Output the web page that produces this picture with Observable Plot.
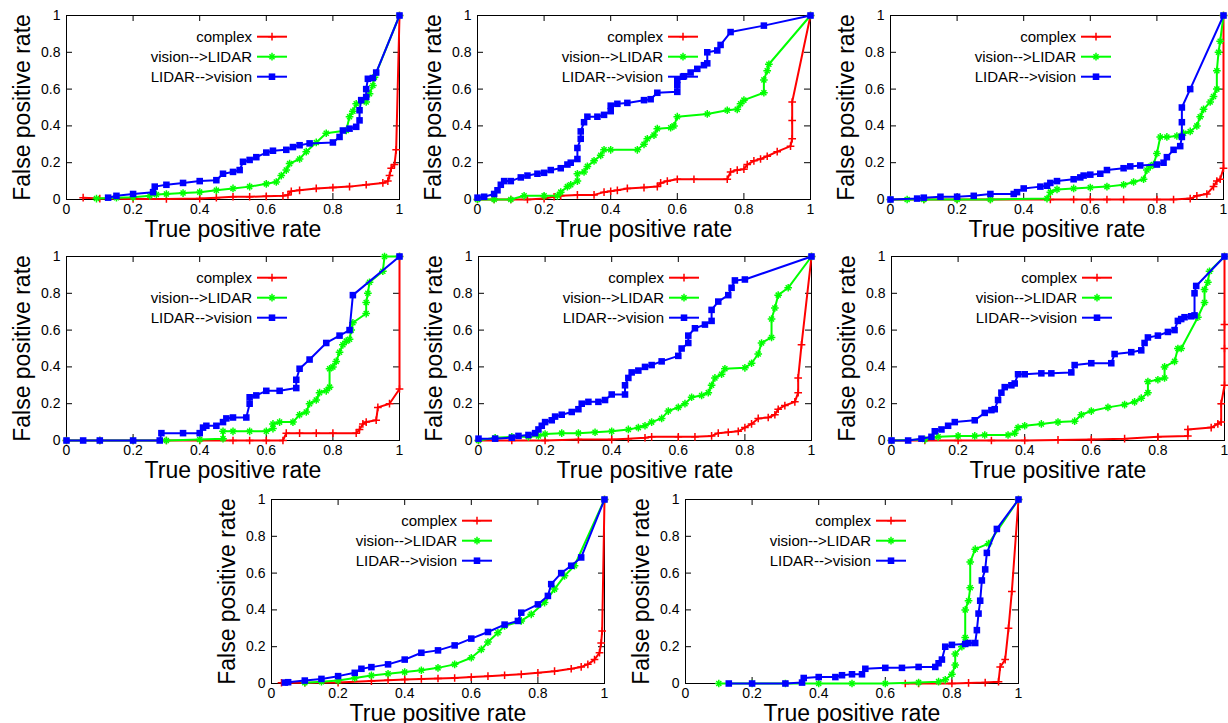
<!DOCTYPE html>
<html><head><meta charset="utf-8">
<script src="https://cdn.jsdelivr.net/npm/d3@7"></script>
<script src="https://cdn.jsdelivr.net/npm/@observablehq/plot@0.6"></script>
<style>
body{margin:0;background:#fff;}
#chart{position:relative;width:1228px;height:723px;overflow:hidden;background:#fff;font-family:"Liberation Sans",Arial,sans-serif;}
#chart svg{position:absolute;}
</style></head><body><div id="chart"></div>
<script>
// ---------- data ----------
const seriesNames = ["complex", "vision-->LIDAR", "LIDAR-->vision"];
const seriesColors = ["#ff0000", "#00ff00", "#0000ff"];
const xTicks = [0, 0.2, 0.4, 0.6, 0.8, 1];
const yTicks = [0, 0.2, 0.4, 0.6, 0.8, 1];
const xLabel = "True positive rate";
const yLabel = "False positive rate";

const p1Complex = [[0.05,0.01],[0.1,0.005],[0.2,0.003],[0.3,0.003],[0.4,0.005],[0.45,0.01],[0.5,0.015],[0.55,0.015],[0.6,0.017],[0.65,0.02],[0.665,0.025],[0.675,0.045],[0.7,0.05],[0.75,0.06],[0.8,0.065],[0.85,0.07],[0.9,0.08],[0.95,0.09],[0.965,0.1],[0.97,0.13],[0.975,0.17],[0.985,0.19],[0.99,0.27],[1,1]];
const p1Vision = [[0.09,0.005],[0.15,0.01],[0.2,0.012],[0.25,0.02],[0.27,0.027],[0.3,0.03],[0.35,0.035],[0.4,0.04],[0.45,0.05],[0.5,0.06],[0.55,0.07],[0.6,0.085],[0.63,0.095],[0.645,0.13],[0.66,0.16],[0.67,0.195],[0.7,0.22],[0.72,0.26],[0.75,0.31],[0.78,0.36],[0.84,0.375],[0.85,0.45],[0.86,0.48],[0.87,0.52],[0.9,0.53],[0.91,0.575],[0.92,0.62],[0.925,0.665],[1,1]];
const p1Lidar = [[0.125,0.01],[0.15,0.02],[0.2,0.03],[0.26,0.04],[0.265,0.07],[0.3,0.08],[0.35,0.09],[0.4,0.1],[0.45,0.105],[0.47,0.14],[0.5,0.15],[0.52,0.16],[0.53,0.205],[0.55,0.215],[0.57,0.23],[0.6,0.255],[0.62,0.265],[0.66,0.27],[0.68,0.285],[0.7,0.295],[0.73,0.305],[0.8,0.31],[0.82,0.34],[0.83,0.375],[0.85,0.385],[0.87,0.395],[0.88,0.43],[0.88,0.485],[0.885,0.54],[0.9,0.557],[0.9,0.6],[0.905,0.656],[0.92,0.66],[0.93,0.69],[1,1]];

const p2Complex = [[0,0],[0.05,0],[0.1,0],[0.15,0],[0.2,0.005],[0.23,0.015],[0.25,0.02],[0.3,0.025],[0.35,0.025],[0.38,0.04],[0.4,0.045],[0.42,0.05],[0.45,0.06],[0.5,0.065],[0.54,0.07],[0.55,0.09],[0.57,0.1],[0.6,0.11],[0.65,0.11],[0.75,0.11],[0.76,0.15],[0.78,0.16],[0.8,0.165],[0.81,0.19],[0.83,0.21],[0.85,0.22],[0.87,0.235],[0.9,0.26],[0.94,0.29],[0.945,0.33],[0.945,0.43],[0.945,0.53],[1,1]];
const p2Vision = [[0,0],[0.05,0],[0.1,0],[0.14,0.02],[0.2,0.02],[0.24,0.02],[0.25,0.04],[0.27,0.07],[0.28,0.08],[0.3,0.1],[0.3,0.14],[0.32,0.15],[0.33,0.18],[0.35,0.21],[0.37,0.24],[0.38,0.27],[0.4,0.27],[0.48,0.27],[0.5,0.3],[0.51,0.33],[0.53,0.35],[0.54,0.385],[0.58,0.39],[0.59,0.4],[0.6,0.45],[0.69,0.465],[0.75,0.485],[0.78,0.49],[0.79,0.52],[0.8,0.54],[0.86,0.58],[0.86,0.65],[0.87,0.7],[0.875,0.735],[1,1]];
const p2Lidar = [[0,0.01],[0.02,0.015],[0.05,0.03],[0.06,0.05],[0.07,0.08],[0.08,0.1],[0.1,0.1],[0.13,0.12],[0.15,0.13],[0.18,0.14],[0.2,0.145],[0.22,0.16],[0.25,0.17],[0.27,0.19],[0.28,0.2],[0.3,0.22],[0.3,0.28],[0.31,0.33],[0.31,0.37],[0.32,0.42],[0.33,0.45],[0.36,0.45],[0.38,0.46],[0.4,0.48],[0.4,0.51],[0.42,0.52],[0.45,0.525],[0.5,0.54],[0.52,0.545],[0.54,0.58],[0.6,0.585],[0.6,0.62],[0.6,0.65],[0.62,0.67],[0.64,0.69],[0.66,0.71],[0.68,0.73],[0.69,0.74],[0.69,0.8],[0.72,0.81],[0.73,0.84],[0.76,0.91],[0.86,0.945],[1,1]];

const p3Complex = [[0,0],[0.1,0],[0.2,0],[0.3,0],[0.48,0],[0.55,0],[0.6,0],[0.65,0],[0.7,0],[0.8,0],[0.85,0],[0.9,0.005],[0.92,0.02],[0.95,0.03],[0.97,0.07],[0.98,0.1],[0.99,0.11],[1,0.17],[1,1]];
const p3Vision = [[0,0],[0.05,0],[0.1,0],[0.2,0],[0.3,0],[0.47,0.005],[0.48,0.04],[0.5,0.055],[0.55,0.06],[0.6,0.065],[0.65,0.07],[0.7,0.08],[0.73,0.095],[0.76,0.11],[0.77,0.16],[0.78,0.18],[0.79,0.19],[0.8,0.25],[0.81,0.34],[0.83,0.34],[0.86,0.345],[0.88,0.36],[0.9,0.37],[0.92,0.4],[0.93,0.45],[0.94,0.49],[0.96,0.53],[0.97,0.56],[0.98,0.6],[0.98,0.7],[0.985,0.8],[0.99,0.86],[1,1]];
const p3Lidar = [[0,0],[0.08,0.005],[0.1,0.01],[0.15,0.015],[0.2,0.015],[0.25,0.02],[0.3,0.03],[0.37,0.03],[0.38,0.04],[0.4,0.06],[0.45,0.07],[0.47,0.075],[0.48,0.09],[0.5,0.1],[0.55,0.11],[0.57,0.12],[0.58,0.13],[0.6,0.135],[0.63,0.14],[0.65,0.16],[0.7,0.17],[0.72,0.18],[0.75,0.185],[0.8,0.19],[0.82,0.2],[0.83,0.23],[0.85,0.27],[0.87,0.29],[0.875,0.34],[0.875,0.42],[0.875,0.5],[0.9,0.6],[1,1]];

const p4Complex = [[0,0],[0.1,0],[0.2,0],[0.3,0],[0.4,0],[0.5,0],[0.55,0],[0.6,0],[0.65,0],[0.66,0.04],[0.7,0.04],[0.75,0.04],[0.8,0.04],[0.87,0.04],[0.88,0.06],[0.89,0.09],[0.9,0.1],[0.93,0.11],[0.935,0.18],[0.97,0.2],[1,0.28],[1,1]];
const p4Vision = [[0,0],[0.1,0],[0.2,0],[0.3,0],[0.4,0.005],[0.47,0.01],[0.47,0.05],[0.5,0.05],[0.55,0.05],[0.6,0.05],[0.62,0.065],[0.62,0.09],[0.64,0.1],[0.68,0.1],[0.7,0.14],[0.72,0.155],[0.73,0.2],[0.75,0.22],[0.76,0.26],[0.78,0.27],[0.79,0.29],[0.79,0.39],[0.8,0.4],[0.81,0.43],[0.82,0.48],[0.83,0.52],[0.84,0.54],[0.85,0.55],[0.855,0.6],[0.86,0.64],[0.9,0.69],[0.9,0.75],[0.905,0.8],[0.91,0.86],[0.95,0.92],[0.955,1],[1,1]];
const p4Lidar = [[0,0],[0.05,0],[0.1,0],[0.2,0],[0.28,0],[0.285,0.04],[0.35,0.04],[0.4,0.04],[0.41,0.07],[0.42,0.08],[0.45,0.08],[0.47,0.1],[0.48,0.12],[0.5,0.125],[0.54,0.125],[0.55,0.2],[0.55,0.235],[0.57,0.245],[0.6,0.27],[0.64,0.27],[0.69,0.285],[0.69,0.33],[0.7,0.39],[0.73,0.44],[0.78,0.53],[0.82,0.57],[0.85,0.6],[0.86,0.79],[1,1]];

const p5Complex = [[0,0],[0.1,0],[0.2,0],[0.3,0.005],[0.4,0.005],[0.45,0.01],[0.5,0.015],[0.52,0.02],[0.6,0.02],[0.65,0.02],[0.7,0.025],[0.72,0.04],[0.75,0.045],[0.78,0.05],[0.8,0.07],[0.82,0.09],[0.84,0.12],[0.87,0.125],[0.89,0.14],[0.9,0.17],[0.92,0.19],[0.95,0.21],[0.96,0.26],[0.96,0.34],[0.97,0.52],[1,1]];
const p5Vision = [[0,0],[0.05,0.015],[0.1,0.02],[0.15,0.02],[0.18,0.025],[0.2,0.035],[0.25,0.04],[0.3,0.04],[0.35,0.045],[0.4,0.05],[0.45,0.06],[0.48,0.07],[0.5,0.08],[0.52,0.1],[0.55,0.12],[0.57,0.16],[0.6,0.18],[0.62,0.2],[0.64,0.235],[0.67,0.245],[0.69,0.26],[0.7,0.3],[0.71,0.34],[0.73,0.36],[0.74,0.39],[0.8,0.395],[0.82,0.42],[0.84,0.47],[0.85,0.53],[0.88,0.56],[0.88,0.66],[0.89,0.72],[0.9,0.79],[0.93,0.83],[1,1]];
const p5Lidar = [[0,0.01],[0.05,0.01],[0.1,0.015],[0.12,0.025],[0.15,0.03],[0.17,0.04],[0.18,0.06],[0.19,0.08],[0.2,0.1],[0.22,0.11],[0.23,0.13],[0.25,0.14],[0.28,0.155],[0.3,0.17],[0.31,0.2],[0.33,0.21],[0.36,0.21],[0.38,0.22],[0.4,0.25],[0.44,0.25],[0.44,0.3],[0.45,0.34],[0.46,0.37],[0.48,0.38],[0.5,0.4],[0.52,0.41],[0.55,0.43],[0.6,0.46],[0.61,0.5],[0.63,0.53],[0.63,0.57],[0.65,0.61],[0.68,0.63],[0.7,0.65],[0.7,0.71],[0.72,0.755],[0.75,0.79],[0.76,0.83],[0.77,0.87],[0.8,0.875],[1,1]];

const p6Complex = [[0,0],[0.1,0],[0.2,0],[0.3,0],[0.4,0],[0.5,0.003],[0.6,0.005],[0.7,0.01],[0.8,0.02],[0.89,0.025],[0.89,0.06],[0.96,0.07],[0.98,0.09],[0.99,0.1],[0.99,0.2],[1,0.3],[1,0.5],[1,0.63],[1,1]];
const p6Vision = [[0,0],[0.1,0.005],[0.14,0.02],[0.2,0.025],[0.25,0.025],[0.28,0.03],[0.35,0.03],[0.37,0.04],[0.38,0.07],[0.4,0.08],[0.45,0.09],[0.5,0.1],[0.55,0.105],[0.57,0.14],[0.6,0.16],[0.65,0.18],[0.7,0.195],[0.73,0.21],[0.75,0.23],[0.77,0.26],[0.77,0.32],[0.8,0.33],[0.82,0.34],[0.82,0.4],[0.85,0.43],[0.86,0.5],[0.87,0.5],[0.92,0.67],[0.94,0.75],[0.94,0.82],[0.95,0.86],[0.955,0.92],[1,1]];
const p6Lidar = [[0,0],[0.05,0],[0.09,0.01],[0.12,0.02],[0.13,0.05],[0.15,0.06],[0.17,0.08],[0.19,0.1],[0.25,0.11],[0.28,0.15],[0.3,0.165],[0.31,0.17],[0.32,0.22],[0.33,0.26],[0.34,0.29],[0.36,0.3],[0.37,0.31],[0.38,0.36],[0.4,0.36],[0.45,0.365],[0.48,0.365],[0.54,0.37],[0.55,0.41],[0.6,0.42],[0.66,0.42],[0.67,0.47],[0.72,0.48],[0.75,0.49],[0.76,0.53],[0.77,0.56],[0.8,0.57],[0.83,0.59],[0.85,0.6],[0.86,0.65],[0.87,0.66],[0.88,0.67],[0.9,0.675],[0.91,0.68],[0.91,0.8],[0.915,0.84],[1,1]];

const p7Complex = [[0.03,0.004],[0.1,0.004],[0.2,0.005],[0.3,0.013],[0.35,0.018],[0.4,0.022],[0.45,0.025],[0.5,0.027],[0.55,0.03],[0.6,0.035],[0.65,0.04],[0.7,0.045],[0.75,0.05],[0.8,0.058],[0.85,0.067],[0.9,0.08],[0.93,0.09],[0.95,0.104],[0.97,0.13],[0.985,0.167],[0.99,0.22],[0.993,0.285],[1,1]];
const p7Vision = [[0.1,0.004],[0.15,0.01],[0.2,0.016],[0.25,0.03],[0.3,0.044],[0.35,0.053],[0.4,0.062],[0.45,0.072],[0.5,0.085],[0.55,0.104],[0.6,0.14],[0.63,0.185],[0.65,0.225],[0.68,0.276],[0.7,0.313],[0.75,0.34],[0.78,0.376],[0.82,0.44],[0.85,0.513],[0.88,0.585],[0.91,0.64],[1,1]];
const p7Lidar = [[0.04,0.005],[0.05,0.007],[0.1,0.016],[0.15,0.025],[0.2,0.04],[0.25,0.058],[0.27,0.08],[0.3,0.089],[0.35,0.104],[0.4,0.13],[0.45,0.167],[0.5,0.18],[0.55,0.207],[0.6,0.244],[0.65,0.28],[0.7,0.32],[0.74,0.34],[0.75,0.385],[0.8,0.43],[0.83,0.476],[0.84,0.54],[0.87,0.6],[0.9,0.64],[0.93,0.685],[1,1]];

const p8Complex = [[0.66,0],[0.7,0],[0.8,0],[0.85,0.003],[0.9,0.005],[0.94,0.01],[0.945,0.09],[0.96,0.13],[0.97,0.3],[0.98,0.5],[1,1]];
const p8Vision = [[0.1,0],[0.2,0],[0.3,0],[0.4,0],[0.5,0],[0.6,0],[0.7,0.005],[0.76,0.01],[0.78,0.02],[0.8,0.05],[0.81,0.1],[0.81,0.16],[0.83,0.2],[0.84,0.25],[0.84,0.4],[0.85,0.45],[0.855,0.52],[0.855,0.66],[0.87,0.73],[0.91,0.76],[1,1]];
const p8Lidar = [[0.13,0],[0.2,0],[0.3,0],[0.35,0.005],[0.355,0.03],[0.4,0.035],[0.45,0.035],[0.47,0.045],[0.5,0.05],[0.53,0.05],[0.54,0.08],[0.6,0.085],[0.65,0.085],[0.7,0.09],[0.75,0.09],[0.76,0.11],[0.77,0.13],[0.78,0.2],[0.8,0.21],[0.84,0.215],[0.85,0.22],[0.87,0.22],[0.875,0.29],[0.88,0.38],[0.885,0.45],[0.89,0.56],[0.9,0.62],[0.905,0.71],[0.935,0.84],[1,1]];

const panelSeries = [
  [p1Complex, p1Vision, p1Lidar],
  [p2Complex, p2Vision, p2Lidar],
  [p3Complex, p3Vision, p3Lidar],
  [p4Complex, p4Vision, p4Lidar],
  [p5Complex, p5Vision, p5Lidar],
  [p6Complex, p6Vision, p6Lidar],
  [p7Complex, p7Vision, p7Lidar],
  [p8Complex, p8Vision, p8Lidar]
];

// ---------- layout (frame top-left corners) ----------
const frameCorners = [[66,15],[477,15],[890,15],[66,256],[478,256],[891,256],[271,499],[685,499]];
const FW = 333, FH = 184, ML = 66, MT = 15, MR = 5, MB = 40;
const FONT = '"Liberation Sans", Arial, Helvetica, sans-serif';
const R_PLUS = 2.6, R_TIMES = 2.4, R_SQUARE = 3.7;

function markMarkers(k, rows, color) {
  if (k === 0) return [Plot.dot(rows, {x: "x", y: "y", symbol: "plus", r: R_PLUS, stroke: color, strokeWidth: 1.5})];
  if (k === 1) return [
    Plot.dot(rows, {x: "x", y: "y", symbol: "plus", r: R_PLUS, stroke: color, strokeWidth: 1.5}),
    Plot.dot(rows, {x: "x", y: "y", symbol: "times", r: R_TIMES, stroke: color, strokeWidth: 1.5})
  ];
  return [Plot.dot(rows, {x: "x", y: "y", symbol: "square", r: R_SQUARE, fill: color, stroke: "none"})];
}

const chart = document.getElementById("chart");
panelSeries.forEach((series, pi) => {
  const marks = [
    Plot.frame({stroke: "black", strokeWidth: 1}),
    Plot.tickX(xTicks, {x: d => d, insetTop: FH - 6, stroke: "black"}),
    Plot.tickX(xTicks, {x: d => d, insetBottom: FH - 6, stroke: "black"}),
    Plot.tickY(yTicks, {y: d => d, insetRight: FW - 6, stroke: "black"}),
    Plot.tickY(yTicks, {y: d => d, insetLeft: FW - 6, stroke: "black"}),
    Plot.axisX(xTicks, {tickSize: 0, tickPadding: 5, tickFormat: d => String(d), label: null, fontSize: 14}),
    Plot.axisY(yTicks, {tickSize: 0, tickPadding: 6, tickFormat: d => String(d), label: null, fontSize: 14}),
    Plot.text([yLabel], {text: d => d, frameAnchor: "left", textAnchor: "middle", lineAnchor: "middle", dx: -44, rotate: -90, fontSize: 23}),
    Plot.text([xLabel], {text: d => d, frameAnchor: "bottom", textAnchor: "middle", lineAnchor: "middle", dy: 30, fontSize: 23})
  ];
  series.forEach((arr, k) => {
    const rows = arr.map(([x, y]) => ({x, y}));
    marks.push(Plot.line(rows, {x: "x", y: "y", stroke: seriesColors[k], strokeWidth: 2}));
    marks.push(...markMarkers(k, rows, seriesColors[k]));
  });
  const svg = Plot.plot({
    width: ML + FW + MR,
    height: MT + FH + MB,
    marginLeft: ML, marginRight: MR, marginTop: MT, marginBottom: MB,
    x: {domain: [0, 1]},
    y: {domain: [0, 1]},
    style: {fontFamily: FONT, fontSize: "14px", color: "black", background: "transparent", overflow: "visible"},
    marks
  });
  // legend (gnuplot style, inside the frame)
  const g = d3.select(svg).append("g").attr("font-family", FONT).attr("font-size", 15);
  seriesNames.forEach((name, k) => {
    const yy = MT + 21.7 + 20 * k;
    const cx = ML + 206, col = seriesColors[k];
    g.append("text").attr("x", ML + 186).attr("y", yy).attr("dy", "0.35em").attr("text-anchor", "end").attr("fill", "black").text(name);
    g.append("line").attr("x1", ML + 191).attr("x2", ML + 221).attr("y1", yy).attr("y2", yy).attr("stroke", col).attr("stroke-width", 2);
    const sym = (type, r) => g.append("path").attr("d", d3.symbol(type, Math.PI * r * r)()).attr("transform", `translate(${cx},${yy})`);
    if (k === 0) {
      sym(d3.symbolPlus, R_PLUS).attr("stroke", col).attr("stroke-width", 1.5).attr("fill", "none");
    } else if (k === 1) {
      sym(d3.symbolPlus, R_PLUS).attr("stroke", col).attr("stroke-width", 1.5).attr("fill", "none");
      sym(d3.symbolTimes, R_TIMES).attr("stroke", col).attr("stroke-width", 1.5).attr("fill", "none");
    } else {
      sym(d3.symbolSquare, R_SQUARE).attr("fill", col);
    }
  });
  svg.style.left = (frameCorners[pi][0] - ML) + "px";
  svg.style.top = (frameCorners[pi][1] - MT) + "px";
  chart.appendChild(svg);
});
</script>
</body></html>
